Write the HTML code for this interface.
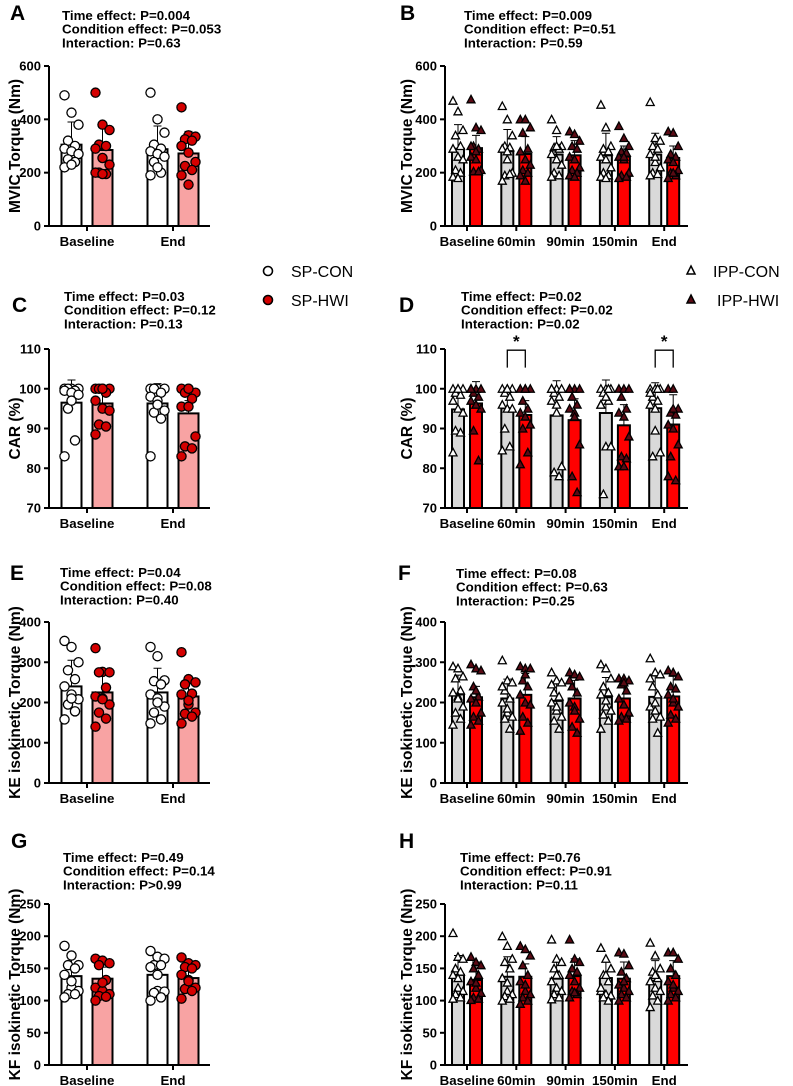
<!DOCTYPE html>
<html><head><meta charset="utf-8"><style>
html,body{margin:0;padding:0;background:#fff}
svg{display:block;font-family:"Liberation Sans",Arial,sans-serif}
</style></head><body>
<svg id="fig" width="793" height="1086" viewBox="0 0 793 1086" xmlns="http://www.w3.org/2000/svg">
<g>
  <circle cx="268" cy="271" r="4.5" fill="#fff" stroke="#000" stroke-width="1.6"/>
  <text x="291" y="277" font-size="16">SP-CON</text>
  <circle cx="268" cy="300" r="4.5" fill="#d40000" stroke="#000" stroke-width="1.6"/>
  <text x="291" y="306" font-size="16">SP-HWI</text>
  <polygon points="691,266 695,274 687,274" fill="#fff" stroke="#000" stroke-width="1.5"/>
  <text x="713" y="277" font-size="16">IPP-CON</text>
  <polygon points="691,295 695,303 687,303" fill="#5a0a14" stroke="#000" stroke-width="1.5"/>
  <text x="717" y="306" font-size="16">IPP-HWI</text>
</g>
</svg>
<script>
// ---------- DATA ----------
const catsSP = ["Baseline","End"];
const catsIPP = ["Baseline","60min","90min","150min","End"];

const A_ticks=[0,200,400,600];
const A_meanCon=[305,288], A_sdCon=[85,87];
const A_meanHwi=[285,272], A_sdHwi=[95,83];
const A_ptsCon=[[490,425,380,320,300,290,280,270,250,240,220,230],[500,400,350,305,290,280,270,260,240,200,190,220]];
const A_ptsHwi=[[500,380,360,305,300,290,255,230,200,195,200,195],[445,340,335,325,320,300,275,240,225,210,190,155]];

const C_ticks=[70,80,90,100,110];
const C_meanCon=[96.5,96.3], C_sdCon=[5.7,5.0];
const C_meanHwi=[96.3,93.8], C_sdHwi=[4.2,3.2];
const C_ptsCon=[[100,100,100,100,99.5,99.5,99,98.5,95,87,83,97],[100,100,100,100,99,98,97,94.5,94,92.5,83,96]];
const C_ptsHwi=[[100,100,100,100,99,97,95,94.5,91,90.5,88.5,100],[100,100,99,99,97.5,95.5,95.5,88,85.5,85,83,100]];

const E_ticks=[0,100,200,300,400];
const E_meanCon=[240,225], E_sdCon=[65,60];
const E_meanHwi=[225,215], E_sdHwi=[53,50];
const E_ptsCon=[[353,338,300,280,258,240,220,208,195,178,158,210],[338,315,255,253,245,220,210,190,175,158,148,200]];
const E_ptsHwi=[[335,276,275,275,237,215,210,195,175,160,140,208],[325,258,250,245,222,220,195,175,172,165,148,205]];

const G_ticks=[0,50,100,150,200,250];
const G_meanCon=[138,140], G_sdCon=[27,20];
const G_meanHwi=[134,135], G_sdHwi=[18,14];
const G_ptsCon=[[185,170,155,155,150,140,120,115,110,110,105,130],[177,168,165,155,155,152,115,114,112,105,100,140]];
const G_ptsHwi=[[165,162,158,155,132,120,115,110,107,106,100,128],[167,158,155,152,150,140,132,120,118,115,103,130]];

const B_ticks=[0,200,400,600];
const B_meanCon=[290,280,268,265,268], B_sdCon=[90,82,67,83,80];
const B_meanHwi=[292,270,265,260,255], B_sdHwi=[48,65,55,40,45];
const B_ptsCon=[[470,430,360,340,300,290,260,250,210,200,185,180],[450,400,340,300,295,290,250,200,190,195,170,280],[400,360,300,295,290,270,250,230,200,190,185,300],[455,370,300,290,280,260,250,220,200,190,185,180],[465,330,320,300,290,270,240,220,200,195,190,260]];
const B_ptsHwi=[[475,370,360,300,290,260,250,210,205,205,300,280],[400,400,370,350,290,280,250,230,210,200,190,170],[355,345,320,300,290,260,250,220,210,200,190,185],[375,330,300,280,275,260,250,200,190,185,180,260],[355,350,300,270,260,250,240,210,200,190,180,200]];

const D_ticks=[70,80,90,100,110];
const D_meanCon=[94.8,95.1,93.3,93.9,95.1], D_sdCon=[3.7,3.4,8.7,8.3,6.4];
const D_meanHwi=[96.3,93.4,92.1,90.8,91.0], D_sdHwi=[5.5,3.6,5.4,5.2,7.5];
const D_ptsCon=[[100,100,100,99,98.5,97,95,94,89.5,89,84,100],[100,100,100,99,98,96,95,95,90,85.5,84.5,100],[100,100,100,99,98,97,94,80.5,79,78,100,96],[100,100,100,99,97,96,85.5,85.5,73.5,100,96,98],[100,100,100,98,97,96,89.5,84,83,100,99,95]];
const D_ptsHwi=[[100,100,100,99,98,97,96,95,89.5,82,100,96],[100,100,100,97,95,94,93,91,90,84,81,100],[100,100,100,98,96,95,94,86,78,74,100,93],[100,100,100,98,95,94,93,88,83,82.5,80.5,80.5],[100,100,95,94,93.5,91,90,86,83,77,78,95]];
const D_sigCats=[1,4];

const F_ticks=[0,100,200,300,400];
const F_meanCon=[220,210,204,213,214], F_sdCon=[48,48,44,49,56];
const F_meanHwi=[213,219,210,210,215], F_sdHwi=[27,53,45,45,50];
const F_ptsCon=[[290,285,265,260,230,225,215,190,175,160,145,210],[305,255,250,230,210,200,175,165,160,135,240,185],[275,255,250,225,215,200,180,165,155,135,245,190],[295,285,260,240,225,220,190,180,170,155,135,205],[310,275,270,240,220,190,180,165,160,125,260,200]];
const F_ptsHwi=[[295,285,280,240,215,210,200,175,165,155,145,230],[290,285,285,255,240,220,200,195,165,150,130,270],[275,270,265,240,225,200,190,160,140,125,255,180],[260,260,255,245,230,210,195,175,165,160,155,250],[280,275,265,240,235,220,200,190,170,160,150,210]];

const H_ticks=[0,50,100,150,200,250];
const H_meanCon=[140,137,134,135,131], H_sdCon=[30,31,26,25,31];
const H_meanHwi=[132,137,138,134,138], H_sdHwi=[28,20,27,26,24];
const H_ptsCon=[[205,168,165,150,145,140,120,115,110,105,103,135],[200,185,165,160,150,135,115,110,107,103,100,128],[195,165,160,150,140,130,120,115,110,105,102,140],[182,165,150,140,130,115,110,108,105,100,120,140],[190,170,150,145,135,130,120,115,108,100,90,140]];
const H_ptsHwi=[[168,160,155,150,140,130,120,112,105,103,101,128],[185,180,170,155,140,130,115,110,105,100,95,125],[195,165,160,150,145,140,130,120,115,110,105,113],[175,173,155,145,135,125,120,115,110,105,100,130],[175,175,165,150,140,130,120,115,110,105,100,125]];

// ---------- DRAWING ----------
const NS="http://www.w3.org/2000/svg";
const fig=document.getElementById('fig');
function mk(tag,attrs,parent){const e=document.createElementNS(NS,tag);for(const k in attrs)e.setAttribute(k,attrs[k]);(parent||fig).appendChild(e);return e;}

function panel(cfg){
  const g=mk('g',{});
  
  
  const lo=cfg.ticks[0], hi=cfg.ticks[cfg.ticks.length-1];
  const y=v=>cfg.bottom-(v-lo)/(hi-lo)*(cfg.bottom-cfg.top);
  const xc=i=>cfg.x0+cfg.step*i;
  const L=mk('text',{x:cfg.lx,y:cfg.ly,'font-size':21,'font-weight':'bold'},g);L.textContent=cfg.id;
  
  
  cfg.stats.forEach((s,k)=>{const t=mk('text',{x:cfg.sx,y:cfg.sy+k*13.7,'font-size':13.3,'font-weight':'bold'},g);t.textContent=s;
    
    });
  const yt=mk('text',{x:0,y:0,'font-size':15.5,'font-weight':'bold','text-anchor':'middle',transform:`translate(${cfg.tx},${(cfg.top+cfg.bottom)/2}) rotate(-90)`},g);
  yt.textContent=cfg.ytitle;
  
  
  const groups=[{m:cfg.meanCon,s:cfg.sdCon,p:cfg.ptsCon,off:-cfg.off,fill:cfg.conFill,pf:'#fff',name:'con'},
                {m:cfg.meanHwi,s:cfg.sdHwi,p:cfg.ptsHwi,off:cfg.off,fill:cfg.hwiFill,pf:cfg.hwiPt,name:'hwi'}];
  groups.forEach(gr=>{
    gr.m.forEach((mv,i)=>{
      const cx=xc(i)+gr.off;
      const b=mk('rect',{x:cx-cfg.bw/2,y:y(mv),width:cfg.bw,height:cfg.bottom-y(mv),fill:gr.fill,stroke:'#000','stroke-width':2},g);
      
      
      const ey=y(mv+gr.s[i]);
      const e=mk('path',{d:`M${cx},${y(mv)}V${ey}M${cx-4},${ey}H${cx+4}`,stroke:'#000','stroke-width':1,fill:'none'},g);
      
      
      const spread=cfg.tri?[-5,0,5,-2.5,2.5]:[-7,0,7,-3.5,3.5];
      gr.p[i].forEach((v,k)=>{
        const px=cx+spread[k%spread.length], py=y(v);
        let el;
        if(cfg.tri){el=mk('polygon',{points:`${px},${py-4} ${px+4},${py+3.5} ${px-4},${py+3.5}`,fill:gr.pf,stroke:'#000','stroke-width':1.3},g);}
        else{el=mk('circle',{cx:px,cy:py,r:4.6,fill:gr.pf,stroke:'#000','stroke-width':1.3},g);}
        
        
      });
    });
  });
  const ax=mk('path',{d:`M${cfg.axisX},${cfg.top}V${cfg.bottom}H${cfg.axisEnd}`,stroke:'#000','stroke-width':2,fill:'none'},g);
  
  
  cfg.ticks.forEach(t=>{
    mk('line',{x1:cfg.axisX-5,x2:cfg.axisX,y1:y(t),y2:y(t),stroke:'#000','stroke-width':2},g);
    const tl=mk('text',{x:cfg.axisX-8,y:y(t)+4.5,'font-size':13,'font-weight':'bold','text-anchor':'end'},g);
    tl.textContent=t;
    
    
  });
  cfg.cats.forEach((c,i)=>{
    mk('line',{x1:xc(i),x2:xc(i),y1:cfg.bottom,y2:cfg.bottom+5,stroke:'#000','stroke-width':2},g);
    const xl=mk('text',{x:xc(i),y:cfg.bottom+20,'font-size':13.3,'font-weight':'bold','text-anchor':'middle'},g);
    xl.textContent=c;
    
    
  });
  if(cfg.sig){cfg.sig.forEach(i=>{
    const x1=xc(i)-cfg.off,x2=xc(i)+cfg.off,yt=y(109.7),yb=y(105.3);
    const br=mk('path',{d:`M${x1},${yb}V${yt}H${x2}V${yb}`,stroke:'#000','stroke-width':1.3,fill:'none'},g);
    
    
    const st=mk('text',{x:xc(i),y:yt-3,'font-size':17,'font-weight':'bold','text-anchor':'middle'},g);
    st.textContent='*';
    
    
  });}
}
const L={cats:catsSP,x0:87,step:86,off:15.5,bw:20,axisX:49,axisEnd:210,tx:20,conFill:'#fff',hwiFill:'#f8a3a3',hwiPt:'#d40000',tri:false};
const R={cats:catsIPP,x0:467,step:49.3,off:9,bw:12,axisX:445,axisEnd:688,tx:412,conFill:'#d9d9d9',hwiFill:'#ff0000',hwiPt:'#5a0a14',tri:true};
panel(Object.assign({},L,{id:'A',lx:10,ly:20,sx:62,sy:20,top:66,bottom:226,ytitle:'MVIC Torque (Nm)',ticks:A_ticks,meanCon:A_meanCon,sdCon:A_sdCon,meanHwi:A_meanHwi,sdHwi:A_sdHwi,ptsCon:A_ptsCon,ptsHwi:A_ptsHwi,stats:['Time effect: P=0.004','Condition effect: P=0.053','Interaction: P=0.63']}));
panel(Object.assign({},L,{id:'C',lx:12,ly:312,sx:64,sy:301,top:349,bottom:508,ytitle:'CAR (%)',ticks:C_ticks,meanCon:C_meanCon,sdCon:C_sdCon,meanHwi:C_meanHwi,sdHwi:C_sdHwi,ptsCon:C_ptsCon,ptsHwi:C_ptsHwi,stats:['Time effect: P=0.03','Condition effect: P=0.12','Interaction: P=0.13']}));
panel(Object.assign({},L,{id:'E',lx:10,ly:580,sx:60,sy:577,top:622,bottom:783,ytitle:'KE isokinetic Torque (Nm)',ticks:E_ticks,meanCon:E_meanCon,sdCon:E_sdCon,meanHwi:E_meanHwi,sdHwi:E_sdHwi,ptsCon:E_ptsCon,ptsHwi:E_ptsHwi,stats:['Time effect: P=0.04','Condition effect: P=0.08','Interaction: P=0.40']}));
panel(Object.assign({},L,{id:'G',lx:11,ly:848,sx:63,sy:862,top:904,bottom:1065,ytitle:'KF isokinetic Torque (Nm)',ticks:G_ticks,meanCon:G_meanCon,sdCon:G_sdCon,meanHwi:G_meanHwi,sdHwi:G_sdHwi,ptsCon:G_ptsCon,ptsHwi:G_ptsHwi,stats:['Time effect: P=0.49','Condition effect: P=0.14','Interaction: P>0.99']}));
panel(Object.assign({},R,{id:'B',lx:400,ly:20,sx:464,sy:20,top:66,bottom:226,ytitle:'MVIC Torque (Nm)',ticks:B_ticks,meanCon:B_meanCon,sdCon:B_sdCon,meanHwi:B_meanHwi,sdHwi:B_sdHwi,ptsCon:B_ptsCon,ptsHwi:B_ptsHwi,stats:['Time effect: P=0.009','Condition effect: P=0.51','Interaction: P=0.59']}));
panel(Object.assign({},R,{id:'D',lx:399,ly:312,sx:461,sy:301,top:349,bottom:508,ytitle:'CAR (%)',ticks:D_ticks,meanCon:D_meanCon,sdCon:D_sdCon,meanHwi:D_meanHwi,sdHwi:D_sdHwi,ptsCon:D_ptsCon,ptsHwi:D_ptsHwi,sig:D_sigCats,stats:['Time effect: P=0.02','Condition effect: P=0.02','Interaction: P=0.02']}));
panel(Object.assign({},R,{id:'F',lx:398,ly:580,sx:456,sy:578,top:622,bottom:783,ytitle:'KE isokinetic Torque (Nm)',ticks:F_ticks,meanCon:F_meanCon,sdCon:F_sdCon,meanHwi:F_meanHwi,sdHwi:F_sdHwi,ptsCon:F_ptsCon,ptsHwi:F_ptsHwi,stats:['Time effect: P=0.08','Condition effect: P=0.63','Interaction: P=0.25']}));
panel(Object.assign({},R,{id:'H',lx:399,ly:848,sx:460,sy:862,top:904,bottom:1065,ytitle:'KF isokinetic Torque (Nm)',ticks:H_ticks,meanCon:H_meanCon,sdCon:H_sdCon,meanHwi:H_meanHwi,sdHwi:H_sdHwi,ptsCon:H_ptsCon,ptsHwi:H_ptsHwi,stats:['Time effect: P=0.76','Condition effect: P=0.91','Interaction: P=0.11']}));
</script>
</body></html>
